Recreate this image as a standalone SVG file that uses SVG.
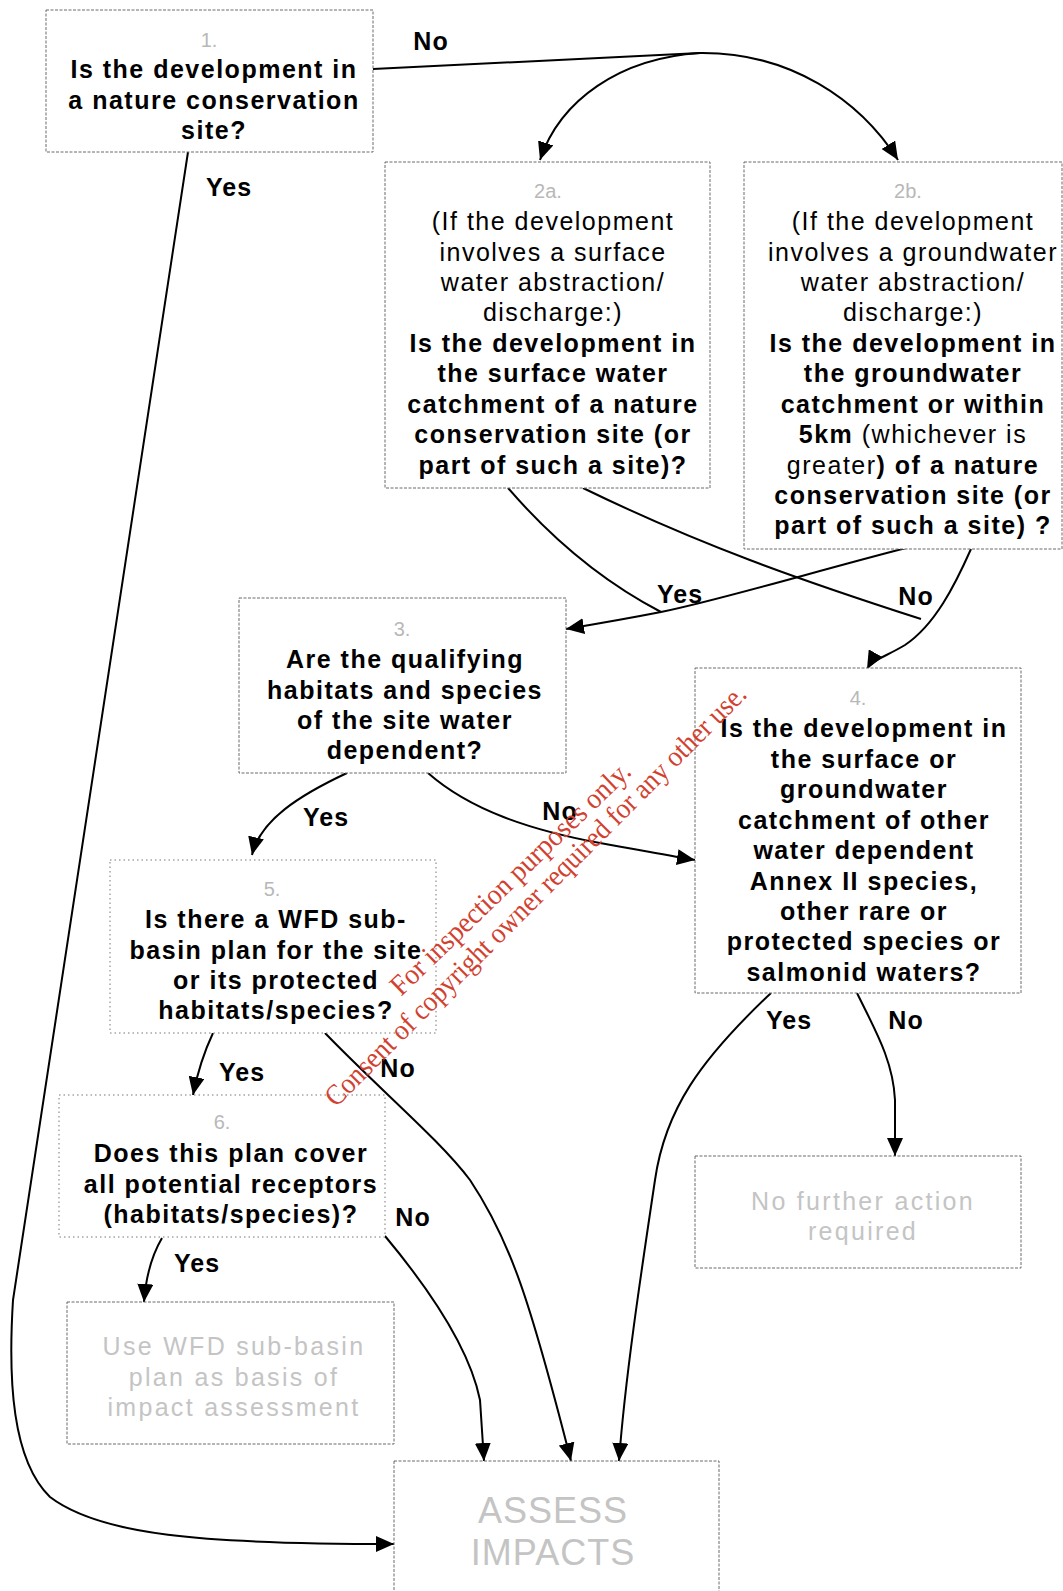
<svg xmlns="http://www.w3.org/2000/svg" width="1063" height="1591" viewBox="0 0 1063 1591">
<style>
.box{fill:#fff;stroke:#6a6a6a;stroke-width:1;stroke-dasharray:3 1.5}
.dot{stroke:#777;stroke-dasharray:1.5 3}
.q{font-family:"Liberation Sans",Arial,sans-serif;font-size:25px;font-weight:bold;letter-spacing:1.5px;text-anchor:middle;fill:#000}
.r{font-weight:normal}
.num{font-family:"Liberation Sans",Arial,sans-serif;font-size:20px;font-weight:normal;text-anchor:middle;fill:#b8b8b8}
.g{font-family:"Liberation Sans",Arial,sans-serif;font-size:25px;letter-spacing:2.3px;text-anchor:middle;fill:#c4c4c4}
.big{font-size:36px;letter-spacing:1px}
.lbl{font-family:"Liberation Sans",Arial,sans-serif;font-size:25px;font-weight:bold;letter-spacing:1px;text-anchor:middle;fill:#000}
.c{fill:none;stroke:#000;stroke-width:2;marker-end:url(#ah)}
.cn{fill:none;stroke:#000;stroke-width:2}
.wm{font-family:"Liberation Serif","Times New Roman",serif;font-size:29px;fill:#d2412f}
</style>
<defs>
<marker id="ah" markerUnits="userSpaceOnUse" markerWidth="20" markerHeight="16" refX="18" refY="8" orient="auto">
<path d="M0,0 L18,8 L0,16 Z" fill="#000"/>
</marker>
</defs>

<g id="connectors">
<path class="cn" d="M373,69 L700,53"/>
<path class="c" d="M700,53 C620,58 560,100 540,160"/>
<path class="c" d="M700,53 C790,52 860,100 898,160"/>
<path class="c" d="M188,152 L13,1300 C8,1380 12,1460 50,1497 C100,1535 200,1544 394,1544"/>
<path class="cn" d="M508,488 C540,525 590,575 661,612"/>
<path class="c" d="M906,548 C820,570 720,600 661,612 C620,620 590,625 566,629"/>
<path class="cn" d="M583,488 C700,545 800,580 921,619"/>
<path class="c" d="M971,549 C955,585 935,625 905,645 C885,657 872,660 867,669"/>
<path class="c" d="M347,773 C300,795 260,820 252,855"/>
<path class="c" d="M428,773 C470,810 530,830 600,843 C640,850 670,856 695,860"/>
<path class="c" d="M213,1033 C205,1050 198,1070 193,1095"/>
<path class="c" d="M325,1033 C380,1090 440,1140 470,1180 C510,1240 530,1300 571,1461"/>
<path class="c" d="M385,1236 C430,1290 470,1350 480,1400 L484,1461"/>
<path class="c" d="M162,1238 C152,1255 146,1275 144,1302"/>
<path class="c" d="M771,993 C700,1060 665,1110 655,1180 C640,1280 625,1380 619,1461"/>
<path class="c" d="M857,993 C875,1030 893,1060 895,1100 L895,1156"/>
<text class="lbl" x="431" y="50">No</text>
<text class="lbl" x="229" y="196">Yes</text>
<text class="lbl" x="680" y="603">Yes</text>
<text class="lbl" x="916" y="605">No</text>
<text class="lbl" x="326" y="826">Yes</text>
<text class="lbl" x="560" y="820">No</text>
<text class="lbl" x="242" y="1081">Yes</text>
<text class="lbl" x="398" y="1077">No</text>
<text class="lbl" x="197" y="1272">Yes</text>
<text class="lbl" x="413" y="1226">No</text>
<text class="lbl" x="789" y="1029">Yes</text>
<text class="lbl" x="906" y="1029">No</text>
</g>

<g id="n1">
<rect class="box" x="46" y="10" width="327" height="142"/>
<text class="num" x="209" y="47">1.</text>
<text class="q" x="214" y="78">Is the development in</text>
<text class="q" x="214" y="108.5">a nature conservation</text>
<text class="q" x="214" y="139">site?</text>
</g>

<g id="n2a">
<rect class="box" x="385" y="162" width="325" height="326"/>
<text class="num" x="548" y="198">2a.</text>
<text class="q r" x="553" y="230">(If the development</text>
<text class="q r" x="553" y="260.5">involves a surface</text>
<text class="q r" x="553" y="291">water abstraction/</text>
<text class="q r" x="553" y="321.4">discharge:)</text>
<text class="q" x="553" y="351.8">Is the development in</text>
<text class="q" x="553" y="382.3">the surface water</text>
<text class="q" x="553" y="412.7">catchment of a nature</text>
<text class="q" x="553" y="443.1">conservation site (or</text>
<text class="q" x="553" y="473.5">part of such a site)?</text>
</g>

<g id="n2b">
<rect class="box" x="744" y="162" width="318" height="387"/>
<text class="num" x="908" y="198">2b.</text>
<text class="q r" x="913" y="230">(If the development</text>
<text class="q r" x="913" y="260.5">involves a groundwater</text>
<text class="q r" x="913" y="291">water abstraction/</text>
<text class="q r" x="913" y="321.4">discharge:)</text>
<text class="q" x="913" y="351.8">Is the development in</text>
<text class="q" x="913" y="382.3">the groundwater</text>
<text class="q" x="913" y="412.7">catchment or within</text>
<text class="q" x="913" y="443.1">5km <tspan class="r">(whichever is</tspan></text>
<text class="q" x="913" y="473.5"><tspan class="r">greater</tspan>) of a nature</text>
<text class="q" x="913" y="504">conservation site (or</text>
<text class="q" x="913" y="534.4">part of such a site) ?</text>
</g>

<g id="n3">
<rect class="box" x="239" y="598" width="327" height="175"/>
<text class="num" x="402" y="636">3.</text>
<text class="q" x="405" y="668">Are the qualifying</text>
<text class="q" x="405" y="698.5">habitats and species</text>
<text class="q" x="405" y="729">of the site water</text>
<text class="q" x="405" y="759">dependent?</text>
</g>

<g id="n4">
<rect class="box" x="695" y="668" width="326" height="325"/>
<text class="num" x="858" y="705">4.</text>
<text class="q" x="864" y="737">Is the development in</text>
<text class="q" x="864" y="767.5">the surface or</text>
<text class="q" x="864" y="798">groundwater</text>
<text class="q" x="864" y="828.5">catchment of other</text>
<text class="q" x="864" y="859">water dependent</text>
<text class="q" x="864" y="889.5">Annex II species,</text>
<text class="q" x="864" y="920">other rare or</text>
<text class="q" x="864" y="950">protected species or</text>
<text class="q" x="864" y="980.5">salmonid waters?</text>
</g>

<g id="n5">
<rect class="box dot" x="110" y="860" width="326" height="173"/>
<text class="num" x="272" y="896">5.</text>
<text class="q" x="276" y="928">Is there a WFD sub-</text>
<text class="q" x="276" y="958.5">basin plan for the site</text>
<text class="q" x="276" y="989">or its protected</text>
<text class="q" x="276" y="1019">habitats/species?</text>
</g>

<g id="n6">
<rect class="box dot" x="59" y="1095" width="326" height="142"/>
<text class="num" x="222" y="1129">6.</text>
<text class="q" x="231" y="1162">Does this plan cover</text>
<text class="q" x="231" y="1192.5">all potential receptors</text>
<text class="q" x="231" y="1223">(habitats/species)?</text>
</g>

<g id="n-usewfd">
<rect class="box" x="67" y="1302" width="327" height="142"/>
<text class="g" x="234" y="1355">Use WFD sub-basin</text>
<text class="g" x="234" y="1385.5">plan as basis of</text>
<text class="g" x="234" y="1416">impact assessment</text>
</g>

<g id="n-nofurther">
<rect class="box" x="695" y="1156" width="326" height="112"/>
<text class="g" x="863" y="1210">No further action</text>
<text class="g" x="863" y="1240">required</text>
</g>

<g id="n-assess">
<rect class="box" x="394" y="1461" width="325" height="140"/>
<text class="g big" x="553" y="1523">ASSESS</text>
<text class="g big" x="553" y="1565">IMPACTS</text>
</g>

<g id="watermark">
<text class="wm" transform="translate(401,997) rotate(-44)" textLength="322" lengthAdjust="spacingAndGlyphs">For inspection purposes only.</text>
<text class="wm" transform="translate(336,1108) rotate(-45)" textLength="583" lengthAdjust="spacingAndGlyphs">Consent of copyright owner required for any other use.</text>
</g>
</svg>
